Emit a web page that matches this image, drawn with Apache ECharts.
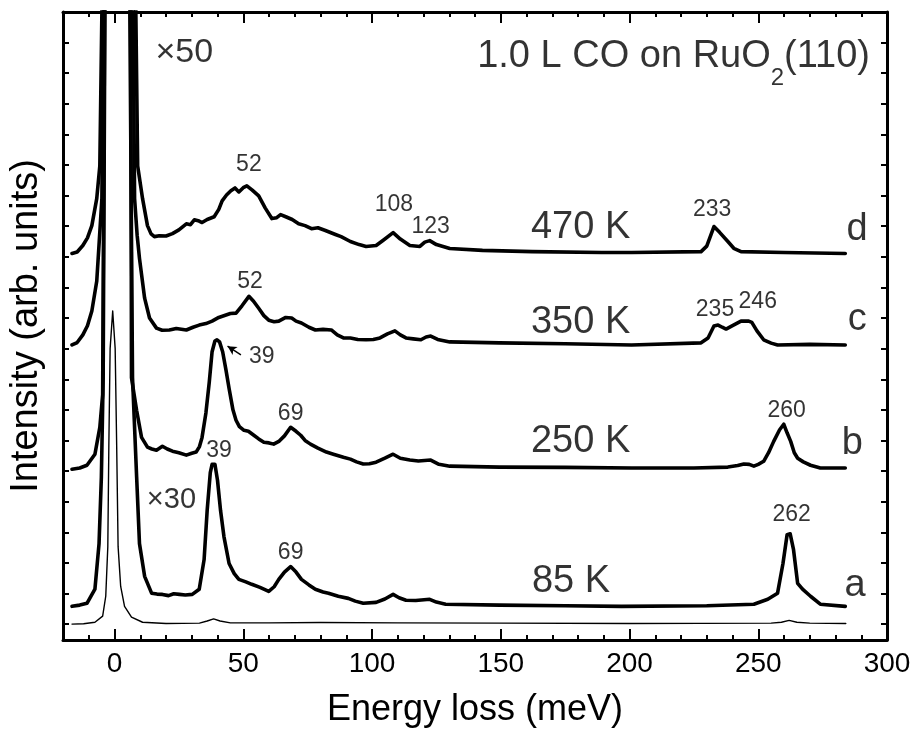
<!DOCTYPE html>
<html>
<head>
<meta charset="utf-8">
<script src="https://cdn.jsdelivr.net/npm/echarts@6/dist/echarts.min.js"></script>
<style>
  html, body { margin: 0; padding: 0; background: #fff; }
  #chart { width: 916px; height: 733px; }
</style>
</head>
<body>
<div id="chart"></div>
<script>
// HREELS spectra, 1.0 L CO on RuO2(110): energy loss (meV) vs intensity (arb. units, offset per spectrum)

// thin trace: elastic peak, x1
const elastic = [[-16.5,0.00],[-12,0.01],[-7.6,0.06],[-4.6,0.26],[-3.4,0.91],[-2.6,2.53],[-2.2,5.80],[-1.7,9.00],[-0.7,10.23],[0.26,9.00],[0.85,5.80],[1.4,2.53],[2.4,1.23],[3.9,0.58],[6.6,0.23],[10.9,0.06],[20,0.02],[33,0.03],[36,0.10],[38.5,0.17],[41,0.10],[45,0.04],[60,0.04],[80,0.05],[110,0.04],[150,0.03],[200,0.02],[255,0.03],[259,0.06],[262,0.12],[265,0.06],[270,0.03],[284,0.02]];

// (a) 85 K
const spec85K = [[-16.5,0.58],[-13.5,0.62],[-10.7,0.68],[-7.6,1.14],[-6.0,2.63],[-5.1,4.80],[-4.4,8.05],[-3.7,20.6],[-2,40],[0,120],[4.5,40],[5.9,20.6],[7.0,8.05],[8.6,4.80],[9.7,2.63],[11.7,1.56],[14.4,1.01],[16.5,0.98],[18.6,0.97],[21,0.93],[23,0.99],[25.2,0.97],[27.5,0.95],[30.2,0.97],[32.9,1.14],[34.8,2.11],[36.0,3.73],[37.2,4.95],[37.9,5.22],[39.0,5.22],[40.0,4.70],[41.2,3.70],[42.5,2.86],[44.5,1.98],[46.5,1.65],[48.3,1.46],[51,1.38],[53.3,1.30],[56.5,1.20],[59.9,1.07],[62,1.22],[63.8,1.46],[66,1.70],[68.4,1.88],[70.5,1.70],[72.6,1.46],[75.5,1.28],[78.0,1.14],[81,1.05],[83.1,1.01],[86.9,0.91],[90.8,0.84],[93.5,0.75],[96.6,0.68],[101.6,0.71],[105,0.82],[108.2,0.97],[110.5,0.86],[113.2,0.78],[117,0.77],[122.4,0.81],[125,0.72],[128.6,0.65],[149.5,0.62],[175,0.60],[196.9,0.58],[230,0.60],[248.3,0.65],[253.7,0.81],[257.5,1.01],[259.6,1.98],[261.2,2.92],[262.4,2.95],[263.7,2.43],[265.3,1.33],[267.2,1.14],[270.3,0.91],[274.1,0.65],[283.8,0.58]];

// (b) 250 K
const spec250K = [[-16.5,5.06],[-13.5,5.10],[-10.7,5.19],[-7.6,5.55],[-5.7,6.43],[-4.6,7.50],[-3.8,20.6],[-2,40],[0,120],[5,40],[6.3,20.6],[6.6,8.05],[8.6,6.98],[10.5,6.10],[12.8,5.78],[14.5,5.72],[16.3,5.68],[18.6,5.81],[20.5,5.72],[22.5,5.65],[25,5.60],[27.9,5.52],[30,5.58],[31.7,5.62],[33,5.80],[34.0,6.10],[35.5,6.90],[36.8,7.90],[37.9,8.90],[39.0,9.25],[39.8,9.29],[40.8,9.22],[42.0,8.90],[43.3,8.30],[44.5,7.70],[46,7.00],[47.2,6.66],[48.5,6.45],[50.3,6.33],[52,6.30],[54.1,6.17],[56,6.05],[58.0,5.94],[60,5.92],[61.8,5.88],[64,5.98],[66,6.15],[68.4,6.43],[70.5,6.30],[72.3,6.17],[74,6.00],[76.1,5.88],[79,5.75],[82.3,5.62],[85,5.55],[88.9,5.45],[91.6,5.39],[94,5.30],[96.6,5.23],[99,5.24],[101.6,5.29],[105,5.42],[108.2,5.55],[111,5.42],[114.7,5.36],[118,5.33],[122.8,5.36],[126,5.22],[130.2,5.16],[149.5,5.13],[175,5.12],[200.8,5.10],[225,5.10],[238.2,5.13],[242,5.18],[244.4,5.23],[246.5,5.22],[248.3,5.16],[250,5.22],[252.1,5.32],[254,5.60],[256.0,5.97],[258.3,6.35],[259.9,6.53],[261.2,6.25],[262.6,5.97],[264,5.60],[265.3,5.42],[267.5,5.30],[270.3,5.19],[274.1,5.10],[283.8,5.10]];

// (c) 350 K
const spec350K = [[-16.5,9.12],[-14.5,9.20],[-12.3,9.45],[-10.5,9.75],[-8.8,10.23],[-6.9,11.20],[-6.1,12.27],[-4.9,13.90],[-4.2,20.6],[-2.5,40],[0,120],[5.5,40],[7.2,20.6],[7.8,13.90],[8.8,12.7],[9.7,11.95],[11.7,10.65],[13.6,10.00],[16.3,9.67],[18.5,9.60],[21.3,9.61],[24,9.66],[27.9,9.61],[30.5,9.70],[32.9,9.77],[35.5,9.82],[37.9,9.90],[40.5,10.02],[43.3,10.10],[45,10.15],[47.2,10.16],[49.5,10.40],[52.2,10.71],[54,10.55],[56.0,10.32],[58,10.08],[59.9,9.93],[62,9.88],[63.8,9.90],[66.5,10.02],[68.8,10.00],[70.5,9.90],[72.6,9.84],[75.5,9.70],[78.0,9.61],[81,9.63],[84.2,9.61],[86.5,9.45],[88.9,9.35],[91.6,9.35],[94.5,9.30],[97.7,9.29],[100.5,9.30],[103.1,9.35],[106,9.48],[108.9,9.58],[111,9.45],[113.2,9.35],[116,9.32],[119.0,9.29],[121,9.38],[122.8,9.41],[125.5,9.30],[130.2,9.22],[149.5,9.19],[175,9.16],[200.8,9.12],[227.8,9.19],[230.5,9.35],[232.8,9.74],[234.4,9.77],[236,9.70],[237.5,9.64],[240,9.75],[243.3,9.90],[246.3,9.90],[247.5,9.86],[249.5,9.58],[252.1,9.29],[255,9.18],[257.5,9.12],[270,9.14],[283.8,9.12]];

// (d) 470 K
const spec470K = [[-16.5,12.11],[-14.5,12.16],[-12.3,12.37],[-10.5,12.62],[-8.8,13.02],[-6.9,13.90],[-5.7,14.97],[-4.8,20.6],[-3.0,40],[0,120],[6.0,40],[8.2,20.6],[9.0,14.97],[10.9,13.90],[12.8,13.02],[14.2,12.75],[15.5,12.66],[17.4,12.69],[20,12.68],[22.5,12.76],[25,12.88],[27.9,13.08],[29.5,13.05],[31.0,13.21],[32.5,13.18],[34.0,13.12],[36,13.22],[38.7,13.31],[40.5,13.55],[41.8,13.83],[43.5,14.02],[45.2,14.16],[46.8,14.25],[48.3,14.12],[50,14.26],[51.4,14.32],[53.5,14.18],[56.0,13.99],[58.5,13.60],[61.1,13.25],[63,13.28],[64.5,13.38],[66.5,13.31],[69,13.22],[71.5,13.08],[74,13.02],[76.5,12.92],[79,12.95],[81.9,12.86],[85.8,12.73],[88,12.66],[91.6,12.50],[95,12.40],[97.7,12.34],[101.6,12.37],[104.5,12.55],[108.2,12.79],[111,12.58],[114.7,12.37],[118.6,12.34],[120.5,12.48],[122.4,12.53],[125,12.40],[130.2,12.27],[142.9,12.21],[162.2,12.17],[189.2,12.14],[200.8,12.14],[227.8,12.17],[230,12.35],[232.8,12.99],[235,12.80],[238.2,12.50],[240.5,12.28],[243.3,12.17],[260,12.14],[283.8,12.11]];

// loss-peak energies (meV) marked on each spectrum
const peaks85K  = [39, 69, 262];
const peaks250K = [39, 69, 260];
const peaks350K = [52, 235, 246];
const peaks470K = [52, 108, 123, 233];

// x-axis tick labels
const xTickLabels = [0, 50, 100, 150, 200, 250, 300];

// ---- layout: where each label sits (data units) ----
const FONT = '"Liberation Sans", Arial, Helvetica, sans-serif';
const INK = '#000';
const peakLabelPos = {
  '85K':  [[40.6, 5.68], [68.4, 2.34], [263.0, 3.57]],
  '250K': [[57.2, 8.73], [68.4, 6.88], [261.0, 6.98]],
  '350K': [[52.6, 11.20], [233.2, 10.29], [249.8, 10.55]],
  '470K': [[52.2, 15.00], [108.5, 13.70], [122.8, 12.99], [232.1, 13.54]]
};

function textLabel(text, size) {
  return { formatter: text, fontSize: size, color: INK, fontFamily: FONT, textBorderWidth: 0 };
}

const notes = [];
function addPeakLabels(peaks, pos) {
  peaks.forEach((e, i) => notes.push({ value: pos[i], label: textLabel(String(e), 23) }));
}
addPeakLabels(peaks85K, peakLabelPos['85K']);
addPeakLabels(peaks250K, peakLabelPos['250K']);
addPeakLabels(peaks350K, peakLabelPos['350K']);
addPeakLabels(peaks470K, peakLabelPos['470K']);

[
  ['470 K', [181, 12.95]], ['350 K', [181, 9.87]], ['250 K', [181, 5.97]], ['85 K', [177.3, 1.40]]
].forEach(([t, p]) => notes.push({ value: p, label: textLabel(t, 38) }));
[
  ['d', [288.4, 12.90]], ['c', [288.4, 9.95]], ['b', [286.5, 5.90]], ['a', [287.6, 1.25]]
].forEach(([t, p]) => notes.push({ value: p, label: textLabel(t, 38) }));
notes.push({ value: [27.1, 18.67], label: textLabel('×50', 34) });
notes.push({ value: [22.1, 4.06], label: textLabel('×30', 29) });
notes.push({
  value: [293.4, 18.54],
  label: {
    formatter: '{m|1.0 L CO on RuO}{s|2}{m|(110)}',
    align: 'right',
    rich: {
      m: { fontSize: 38, fontFamily: FONT, color: INK, lineHeight: 76, verticalAlign: 'middle' },
      s: { fontSize: 24, fontFamily: FONT, color: INK, lineHeight: 76, verticalAlign: 'bottom', padding: [0, 0, 4, 0] }
    }
  }
});

const yTicks = [];
for (let k = 0; k <= 19; k++) yTicks.push(k);

const thick = 3.6;

function xAxisBase(position, showLabels) {
  return {
    type: 'value', min: -20, max: 300, interval: 10, position: position,
    axisLine: { show: true, onZero: false, lineStyle: { color: INK, width: 3 } },
    axisTick: { show: true, inside: true, length: 5, lineStyle: { color: INK, width: 2 } },
    splitLine: { show: false },
    axisLabel: {
      show: showLabels, color: INK, fontSize: 28, fontFamily: FONT, margin: 10,
      formatter: v => (xTickLabels.indexOf(v) >= 0 ? String(v) : '')
    }
  };
}
function xAxisMajor(position) {
  return {
    type: 'value', min: -20, max: 300, position: position,
    axisLine: { show: false, onZero: false },
    axisTick: { show: true, inside: true, length: 11, customValues: xTickLabels, lineStyle: { color: INK, width: 2 } },
    axisLabel: { show: false },
    splitLine: { show: false }
  };
}
function yAxisBase(position) {
  return {
    type: 'value', min: -0.52, max: 20, position: position,
    axisLine: { show: true, onZero: false, lineStyle: { color: INK, width: 3 } },
    axisTick: { show: true, inside: true, length: 6, customValues: yTicks, lineStyle: { color: INK, width: 2 } },
    axisLabel: { show: false },
    splitLine: { show: false }
  };
}

const xBottom = xAxisBase('bottom', true);
xBottom.name = 'Energy loss (meV)';
xBottom.nameLocation = 'middle';
xBottom.nameGap = 52;
xBottom.nameTextStyle = { fontSize: 36, fontFamily: FONT, color: INK };

const yLeft = yAxisBase('left');
yLeft.name = 'Intensity (arb. units)';
yLeft.nameLocation = 'middle';
yLeft.nameGap = 17;
yLeft.nameTextStyle = { fontSize: 38, fontFamily: FONT, color: INK };

function spectrum(data, width) {
  return {
    type: 'line', xAxisIndex: 0, yAxisIndex: 0, data: data,
    showSymbol: false, symbol: 'none', clip: true, silent: true,
    lineStyle: { color: INK, width: width, join: 'round', cap: 'round' },
    animation: false
  };
}

const arrowSeries = spectrum([], 1);
arrowSeries.markLine = {
  silent: true, animation: false,
  symbol: ['none', 'arrow'], symbolSize: [7, 9],
  label: { show: false },
  lineStyle: { color: INK, width: 1.5, type: 'solid' },
  data: [[{ coord: [49.1, 8.80] }, { coord: [43.9, 9.08] }]]
};

const option = {
  backgroundColor: '#fff',
  animation: false,
  grid: { left: 58, right: 29, top: 12, bottom: 89 },
  xAxis: [xBottom, xAxisBase('top', false), xAxisMajor('bottom'), xAxisMajor('top')],
  yAxis: [yLeft, yAxisBase('right')],
  series: [
    spectrum(elastic, 1.4),
    spectrum(spec85K, thick),
    spectrum(spec250K, thick),
    spectrum(spec350K, thick),
    spectrum(spec470K, thick),
    arrowSeries,
    {
      type: 'scatter', xAxisIndex: 0, yAxisIndex: 0, symbolSize: 0, silent: true, animation: false,
      label: { show: true, position: 'inside', color: INK, fontFamily: FONT },
      data: notes, z: 5
    }
  ]
};

const chart = echarts.init(document.getElementById('chart'), null, { renderer: 'canvas' });
chart.setOption(option);
</script>
</body>
</html>
